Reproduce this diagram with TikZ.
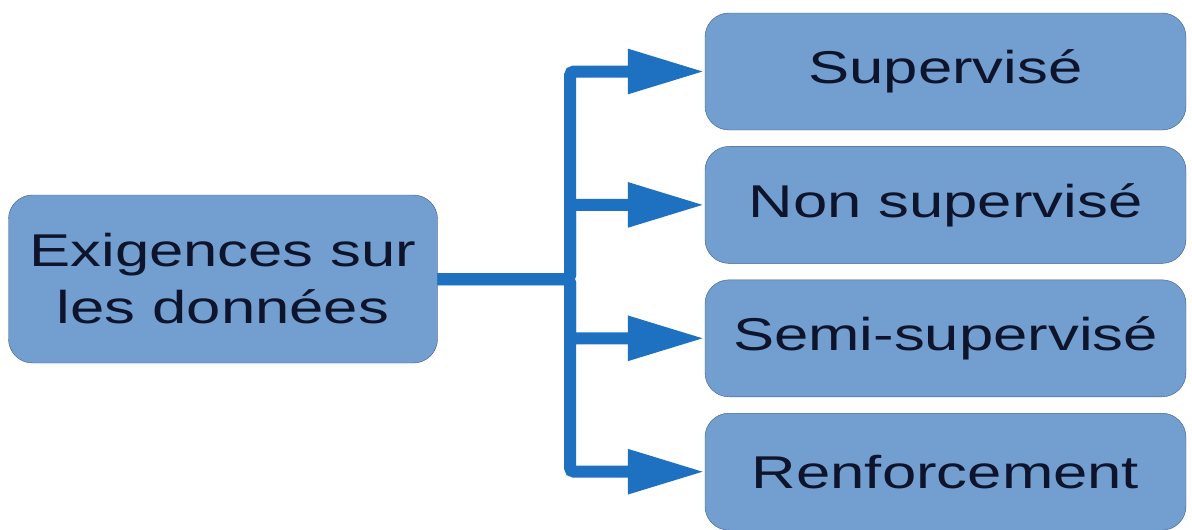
\documentclass[tikz,border=0pt]{standalone}
\usepackage{fontspec}
\newfontfamily\boxfont[FakeStretch=1.34]{Liberation Sans}
\usetikzlibrary{arrows.meta, positioning}

\definecolor{boxfill}{RGB}{114,159,207}
\definecolor{boxline}{RGB}{60,90,140}
\definecolor{connblue}{RGB}{30,112,192}
\definecolor{boxtext}{RGB}{15,20,45}

\begin{document}
\begin{tikzpicture}[
  x=1pt, y=-1pt,
  every node/.style={font=\boxfont\fontsize{46pt}{57pt}\selectfont, text=boxtext},
  srcbox/.style={draw=boxline, fill=boxfill, rounded corners=24pt, minimum width=429pt, minimum height=168pt, align=center, inner sep=0pt},
  kindbox/.style={draw=boxline, fill=boxfill, rounded corners=24pt, minimum width=481pt, minimum height=117pt, inner sep=0pt},
  conn/.style={draw=connblue, line width=12pt, rounded corners=4pt, -{Triangle[length=77pt, width=42pt]}}
]
\useasboundingbox (0,0) rectangle (1192,530);

% Source box
\node[srcbox] (exig) at (223,279) {Exigences sur\\les données};

% Learning kinds
\node[kindbox] (sup) at (945.5,71.5) {Supervisé};
\node[kindbox, below=16pt of sup] (nonsup) {Non supervisé};
\node[kindbox, below=16pt of nonsup] (semisup) {Semi-supervisé};
\node[kindbox, below=16pt of semisup] (renf) {Renforcement};

% Branching connector
\coordinate (jn) at (570,279);
\draw[conn] (exig.east) -- (jn) |- (sup.west);
\draw[conn] (exig.east) -- (jn) |- (nonsup.west);
\draw[conn] (exig.east) -- (jn) |- (semisup.west);
\draw[conn] (exig.east) -- (jn) |- (renf.west);

\end{tikzpicture}
\end{document}
